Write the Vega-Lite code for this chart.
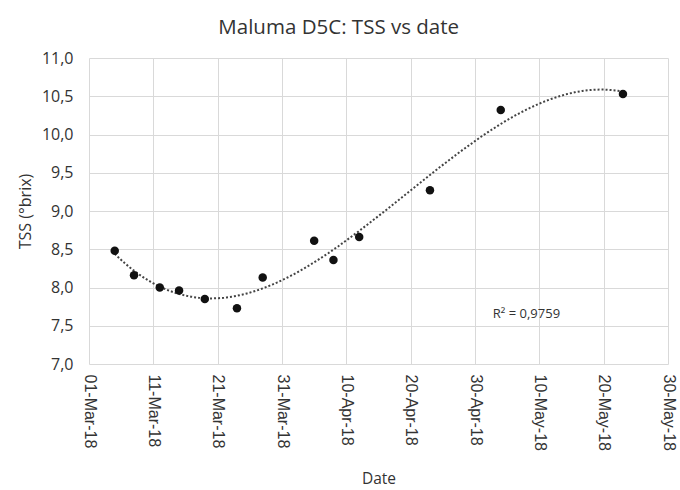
{
  "$schema": "https://vega.github.io/schema/vega-lite/v6.json",
  "width": 579,
  "height": 306,
  "autosize": {"type": "none"},
  "padding": {"left": 89, "top": 58, "right": 12, "bottom": 126},
  "background": "white",
  "title": {
    "text": "Maluma D5C: TSS vs date",
    "font": "Open Sans",
    "fontSize": 20.5,
    "fontWeight": "normal",
    "color": "#333333",
    "anchor": "middle",
    "frame": "bounds",
    "offset": 12,
    "dx": -8
  },
  "config": {
    "view": {"stroke": null},
    "axis": {"gridColor": "#d9d9d9", "gridWidth": 1, "domain": false, "ticks": false}
  },
  "data": {
    "values": [
      {"date": "2018-03-05T00:00:00", "tss": 8.48},
      {"date": "2018-03-08T00:00:00", "tss": 8.16},
      {"date": "2018-03-12T00:00:00", "tss": 8.00},
      {"date": "2018-03-15T00:00:00", "tss": 7.96},
      {"date": "2018-03-19T00:00:00", "tss": 7.85},
      {"date": "2018-03-24T00:00:00", "tss": 7.73},
      {"date": "2018-03-28T00:00:00", "tss": 8.13},
      {"date": "2018-04-05T00:00:00", "tss": 8.61},
      {"date": "2018-04-08T00:00:00", "tss": 8.36},
      {"date": "2018-04-12T00:00:00", "tss": 8.66},
      {"date": "2018-04-23T00:00:00", "tss": 9.27},
      {"date": "2018-05-04T00:00:00", "tss": 10.32},
      {"date": "2018-05-23T00:00:00", "tss": 10.53}
    ],
    "format": {"parse": {"date": "date"}}
  },
  "encoding": {
    "x": {
      "field": "date",
      "type": "temporal",
      "scale": {"domain": [{"year": 2018, "month": 3, "date": 1}, {"year": 2018, "month": 5, "date": 30}]},
      "axis": {
        "title": "Date",
        "values": [
          {"year": 2018, "month": 3, "date": 1},
          {"year": 2018, "month": 3, "date": 11},
          {"year": 2018, "month": 3, "date": 21},
          {"year": 2018, "month": 3, "date": 31},
          {"year": 2018, "month": 4, "date": 10},
          {"year": 2018, "month": 4, "date": 20},
          {"year": 2018, "month": 4, "date": 30},
          {"year": 2018, "month": 5, "date": 10},
          {"year": 2018, "month": 5, "date": 20},
          {"year": 2018, "month": 5, "date": 30}
        ],
        "format": "%d-%b-%y",
        "labelAngle": 90,
        "labelAlign": "left",
        "labelBaseline": "middle",
        "labelFont": "Liberation Sans",
        "labelFontSize": 16,
        "labelColor": "#333333",
        "labelPadding": 10,
        "labelOverlap": false,
        "labelFlush": false,
        "titleFont": "Open Sans",
        "titleFontSize": 15.5,
        "titleFontWeight": "normal",
        "titleColor": "#333333",
        "titlePadding": 21
      }
    },
    "y": {
      "field": "tss",
      "type": "quantitative",
      "scale": {"domain": [7, 11], "nice": false, "zero": false},
      "axis": {
        "title": "TSS (°brix)",
        "values": [7, 7.5, 8, 8.5, 9, 9.5, 10, 10.5, 11],
        "labelExpr": "replace(format(datum.value, '.1f'), '.', ',')",
        "labelFont": "Open Sans",
        "labelFontSize": 16,
        "labelColor": "#333333",
        "labelPadding": 16,
        "titleFont": "Open Sans",
        "titleFontSize": 16,
        "titleFontWeight": "normal",
        "titleColor": "#333333",
        "titlePadding": 8
      }
    }
  },
  "layer": [
    {
      "transform": [{"regression": "tss", "on": "date", "method": "poly", "order": 3}],
      "mark": {"type": "line", "color": "#444444", "strokeWidth": 2, "strokeDash": [2, 2]}
    },
    {
      "mark": {"type": "circle", "size": 72, "color": "#111111", "opacity": 1}
    },
    {
      "data": {"values": [{"date": "2018-05-08T00:00:00", "tss": 7.66, "label": "R² = 0,9759"}], "format": {"parse": {"date": "date"}}},
      "mark": {"type": "text", "font": "Open Sans", "fontSize": 13, "color": "#333333", "align": "center", "baseline": "middle"},
      "encoding": {"text": {"field": "label"}}
    }
  ]
}
